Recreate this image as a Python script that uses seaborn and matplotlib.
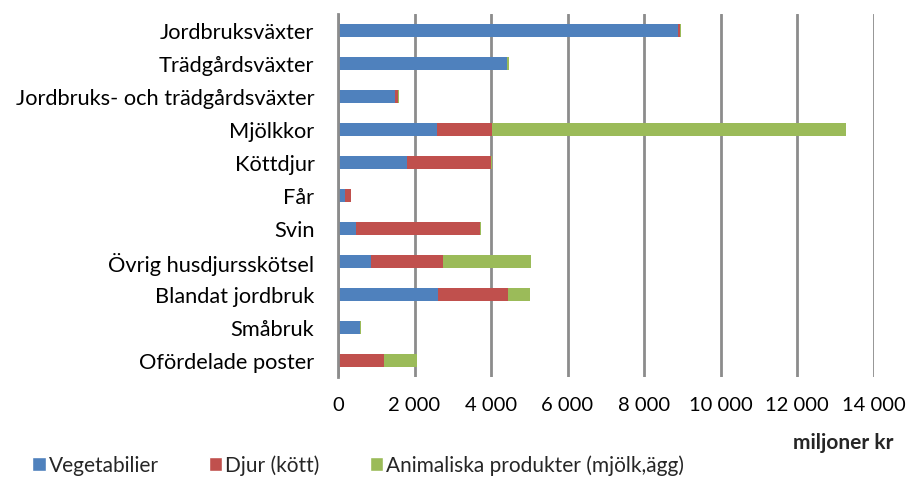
import matplotlib
matplotlib.use("Agg")
import matplotlib.pyplot as plt
import seaborn as sns
import numpy as np
import pandas as pd
from matplotlib.patches import Patch

categories = ["Jordbruksväxter", "Trädgårdsväxter", "Jordbruks- och trädgårdsväxter",
              "Mjölkkor", "Köttdjur", "Får", "Svin", "Övrig husdjursskötsel",
              "Blandat jordbruk", "Småbruk", "Ofördelade poster"]
vegetabilier = [8880, 4420, 1490, 2600, 1810, 190, 480, 870, 2610, 575, 0]
djur = [60, 10, 80, 1430, 2200, 140, 3240, 1880, 1830, 0, 1200]
animaliska = [20, 30, 30, 9240, 10, 0, 20, 2300, 580, 15, 870]
series_names = ["Vegetabilier", "Djur (kött)", "Animaliska produkter (mjölk,ägg)"]
colors = ["#4f81bd", "#c0504d", "#9bbb59"]
xticks = [0, 2000, 4000, 6000, 8000, 10000, 12000, 14000]
xticklabels = ["0", "2 000", "4 000", "6 000", "8 000", "10 000", "12 000", "14 000"]

sns.set_style("white")
plt.rcParams['font.family'] = ['Lato', 'DejaVu Sans']

df = pd.DataFrame({"cat": categories, "veg": vegetabilier, "djur": djur, "anim": animaliska})
df["c1"] = df["veg"]
df["c2"] = df["veg"] + df["djur"]
df["c3"] = df["c2"] + df["anim"]

fig = plt.figure(figsize=(9.08, 4.81), dpi=100)
ax = fig.add_axes([338/908, 1 - 378/481, (873.5 - 338)/908, (378 - 15)/481])

for col, c in zip(["c3", "c2", "c1"], colors[::-1]):
    sns.barplot(data=df, x=col, y="cat", orient="h", color=c, width=0.4,
                saturation=1, ax=ax, linewidth=0)

ax.set_xlim(0, 14000)
ax.set_ylim(len(categories) - 0.5, -0.5)
ax.set_xticks(xticks)
ax.set_xticklabels(xticklabels)
ax.set_xlabel("")
ax.set_ylabel("")
ax.grid(axis="x", color="#8c8c8c", linewidth=2)
ax.set_axisbelow(True)
for s in ["top", "right", "bottom"]:
    ax.spines[s].set_visible(False)
ax.spines["left"].set_color("#8c8c8c")
ax.spines["left"].set_linewidth(2)
ax.tick_params(axis="y", which="major", length=0, labelsize=15.7, pad=17, colors="black")
ax.set_yticks(np.arange(len(categories) + 1) - 0.5, minor=True)
ax.tick_params(axis="y", which="minor", length=6, width=2, color="#8c8c8c", direction="out")
ax.tick_params(axis="x", length=0, labelsize=14.5, pad=14, colors="black")

fig.text(843/908, 1 - 443/481, "miljoner kr", fontsize=15, fontweight="bold",
         ha="center", va="center")

handles = [Patch(facecolor=c, label=n) for c, n in zip(colors, series_names)]
fig.legend(handles=handles, loc="center left", bbox_to_anchor=(32/908, 1 - 466/481), ncol=3,
           frameon=False, fontsize=15, handlelength=0.65, handleheight=0.65,
           handletextpad=0.15, columnspacing=2.4, borderaxespad=0, borderpad=0)

fig.savefig("out.png", dpi=100)
